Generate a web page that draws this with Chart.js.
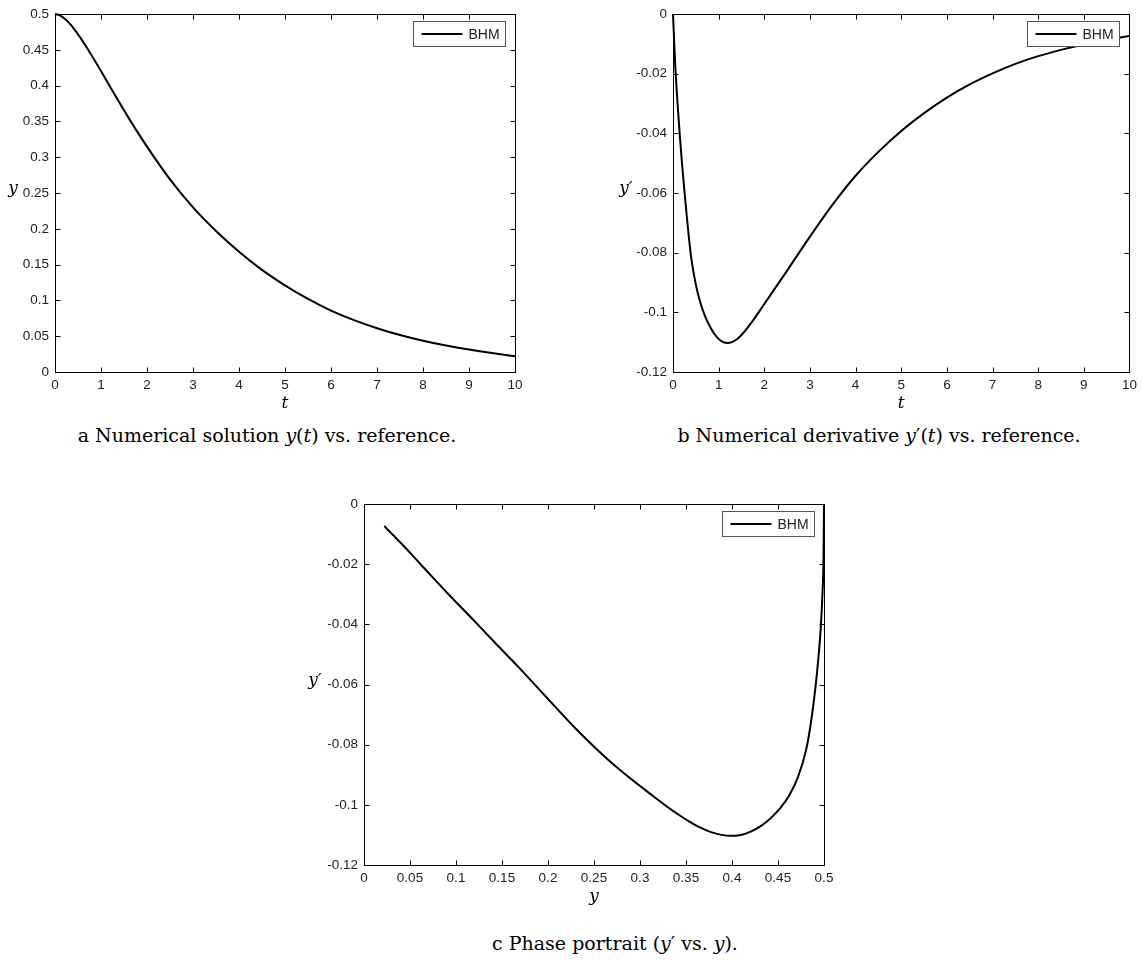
<!DOCTYPE html>
<html>
<head>
<meta charset="utf-8">
<title>BHM solution</title>
<script src="https://cdn.jsdelivr.net/npm/chart.js@4.4.1/dist/chart.umd.min.js"></script>
<style>
  body { margin: 0; background: #fff; width: 1142px; height: 960px; position: relative; overflow: hidden; }
  canvas { position: absolute; }
  .caption { position: absolute; font-family: "DejaVu Serif", serif; font-size: 19px; color: #000; white-space: nowrap; transform: translate(-50%, -50%); }
  .caption i { font-style: italic; }
</style>
</head>
<body>
<canvas id="chartA" width="540" height="420" style="left:0;top:0"></canvas>
<canvas id="chartB" width="542" height="420" style="left:600px;top:0"></canvas>
<canvas id="chartC" width="560" height="420" style="left:290px;top:490px"></canvas>

<div class="caption" style="left:267px;top:435px">a Numerical solution <i>y</i>(<i>t</i>) vs. reference.</div>
<div class="caption" style="left:879px;top:435px">b Numerical derivative <i>y</i>′(<i>t</i>) vs. reference.</div>
<div class="caption" style="left:615px;top:943px">c Phase portrait (<i>y</i>′ vs. <i>y</i>).</div>

<script>
// time samples and the solution / derivative at each sample
const tValues = [0, 0.05, 0.1, 0.15, 0.2, 0.25, 0.3, 0.35, 0.4, 0.5, 0.6, 0.7, 0.8, 0.9, 1.0,
  1.1, 1.2, 1.3, 1.4, 1.5, 1.6, 1.75, 2.0, 2.5, 3.0, 3.5, 4.0, 4.5, 5.0,
  5.5, 6.0, 6.5, 7.0, 7.5, 8.0, 8.5, 9.0, 9.5, 10];
const yValues = [0.5, 0.4995, 0.4983, 0.4965, 0.4941, 0.4913, 0.4881, 0.4845, 0.4805,
  0.4718, 0.4623, 0.4522, 0.4418, 0.4312, 0.4204,
  0.4094, 0.3983, 0.3873, 0.3764, 0.3657, 0.3550, 0.3396, 0.3148,
  0.2690, 0.2300, 0.1970, 0.1680, 0.1427, 0.1210,
  0.1020, 0.0858, 0.0724, 0.0612, 0.0517, 0.0437, 0.0370, 0.0313, 0.0264, 0.0221];
const dyValues = [0, -0.0175, -0.0300, -0.0410, -0.0505, -0.0593, -0.0675, -0.0752, -0.0818,
  -0.0907, -0.0968, -0.1012, -0.1045, -0.1071, -0.1089,
  -0.1100, -0.1103, -0.1099, -0.1090, -0.1076, -0.1058, -0.1028, -0.0972,
  -0.0860, -0.0746, -0.0638, -0.0542, -0.0462, -0.0392,
  -0.0332, -0.0280, -0.0236, -0.0199, -0.0167, -0.0141, -0.0120, -0.0102, -0.0087, -0.0073];

const seriesLabel = 'BHM';

const TICK_FONT = { family: '"Liberation Sans", Arial, sans-serif', size: 13.5 };
const TICK_COLOR = '#222';
const MATH_FONT = 'italic 17px "DejaVu Serif", serif';

function fmt(v) {
  return String(Number(v.toFixed(3)));
}

// box, inward ticks on all four sides, legend and axis symbols
const framePlugin = {
  id: 'frame',
  afterDatasetsDraw(chart, args, opts) {
    const { ctx, chartArea: a, scales } = chart;
    const L = Math.round(a.left) + 0.5, R = Math.round(a.right) + 0.5;
    const T = Math.round(a.top) + 0.5, B = Math.round(a.bottom) + 0.5;
    ctx.save();
    ctx.strokeStyle = '#000';
    ctx.lineWidth = 1;
    ctx.beginPath();
    scales.x.ticks.forEach(tk => {
      const px = Math.round(scales.x.getPixelForValue(tk.value)) + 0.5;
      ctx.moveTo(px, B); ctx.lineTo(px, B - 5);
      ctx.moveTo(px, T); ctx.lineTo(px, T + 5);
    });
    scales.y.ticks.forEach(tk => {
      const py = Math.round(scales.y.getPixelForValue(tk.value)) + 0.5;
      ctx.moveTo(L, py); ctx.lineTo(L + 5, py);
      ctx.moveTo(R, py); ctx.lineTo(R - 5, py);
    });
    ctx.stroke();
    ctx.strokeRect(L, T, R - L, B - T);

    // legend box in the upper right corner
    const bw = 92, bh = 25;
    const bx = Math.round(a.right) - 10 - bw + 0.5, by = Math.round(a.top) + 7 + 0.5;
    ctx.fillStyle = '#fff';
    ctx.fillRect(bx, by, bw, bh);
    ctx.strokeStyle = '#555';
    ctx.strokeRect(bx, by, bw, bh);
    ctx.strokeStyle = '#000';
    ctx.lineWidth = 2;
    ctx.beginPath();
    ctx.moveTo(bx + 8, by + bh / 2);
    ctx.lineTo(bx + 49, by + bh / 2);
    ctx.stroke();
    ctx.fillStyle = TICK_COLOR;
    ctx.font = '14px ' + TICK_FONT.family;
    ctx.textAlign = 'left';
    ctx.textBaseline = 'middle';
    ctx.fillText(chart.data.datasets[0].label, bx + 55, by + bh / 2 + 1);

    // axis symbols
    ctx.fillStyle = '#000';
    ctx.font = MATH_FONT;
    ctx.textAlign = 'center';
    ctx.fillText(opts.xTitle, (a.left + a.right) / 2, a.bottom + 32);
    ctx.fillText(opts.yTitle, a.left + opts.yTitleOffset, (a.top + a.bottom) / 2 - 4);
    ctx.restore();
  }
};

function makeChart(id, points, xRange, yRange, box, titles) {
  const canvas = document.getElementById(id);
  return new Chart(canvas, {
    type: 'scatter',
    data: {
      datasets: [{
        label: seriesLabel,
        data: points,
        showLine: true,
        borderColor: '#000',
        borderWidth: 2,
        pointRadius: 0,
        cubicInterpolationMode: 'monotone',
        clip: 1
      }]
    },
    options: {
      responsive: false,
      animation: false,
      events: [],
      layout: { padding: { left: 0, top: box.top, right: canvas.width - box.right, bottom: 0 } },
      plugins: {
        legend: { display: false },
        tooltip: { enabled: false },
        frame: titles
      },
      scales: {
        x: {
          type: 'linear',
          min: xRange[0], max: xRange[1],
          grid: { display: false, drawTicks: false },
          border: { display: false },
          ticks: { stepSize: xRange[2], padding: 5, color: TICK_COLOR, font: TICK_FONT, maxRotation: 0, callback: fmt },
          afterFit: s => { s.height = canvas.height - box.bottom; }
        },
        y: {
          type: 'linear',
          min: yRange[0], max: yRange[1],
          grid: { display: false, drawTicks: false },
          border: { display: false },
          ticks: { stepSize: yRange[2], padding: 6, color: TICK_COLOR, font: TICK_FONT, callback: fmt },
          afterFit: s => { s.width = box.left; }
        }
      }
    },
    plugins: [framePlugin]
  });
}

const solutionPoints = tValues.map((t, i) => ({ x: t, y: yValues[i] }));
const derivativePoints = tValues.map((t, i) => ({ x: t, y: dyValues[i] }));
// phase curve ordered by increasing y
const phasePoints = tValues.map((t, i) => ({ x: yValues[i], y: dyValues[i] })).reverse();

makeChart('chartA', solutionPoints, [0, 10, 1], [0, 0.5, 0.05],
  { left: 55, right: 515, top: 10, bottom: 372 },
  { xTitle: 't', yTitle: 'y', yTitleOffset: -42 });
makeChart('chartB', derivativePoints, [0, 10, 1], [-0.12, 0, 0.02],
  { left: 73, right: 532, top: 10, bottom: 372 },
  { xTitle: 't', yTitle: 'y′', yTitleOffset: -47 });
makeChart('chartC', phasePoints, [0, 0.5, 0.05], [-0.12, 0, 0.02],
  { left: 74, right: 534, top: 13, bottom: 375 },
  { xTitle: 'y', yTitle: 'y′', yTitleOffset: -49 });
</script>
</body>
</html>
